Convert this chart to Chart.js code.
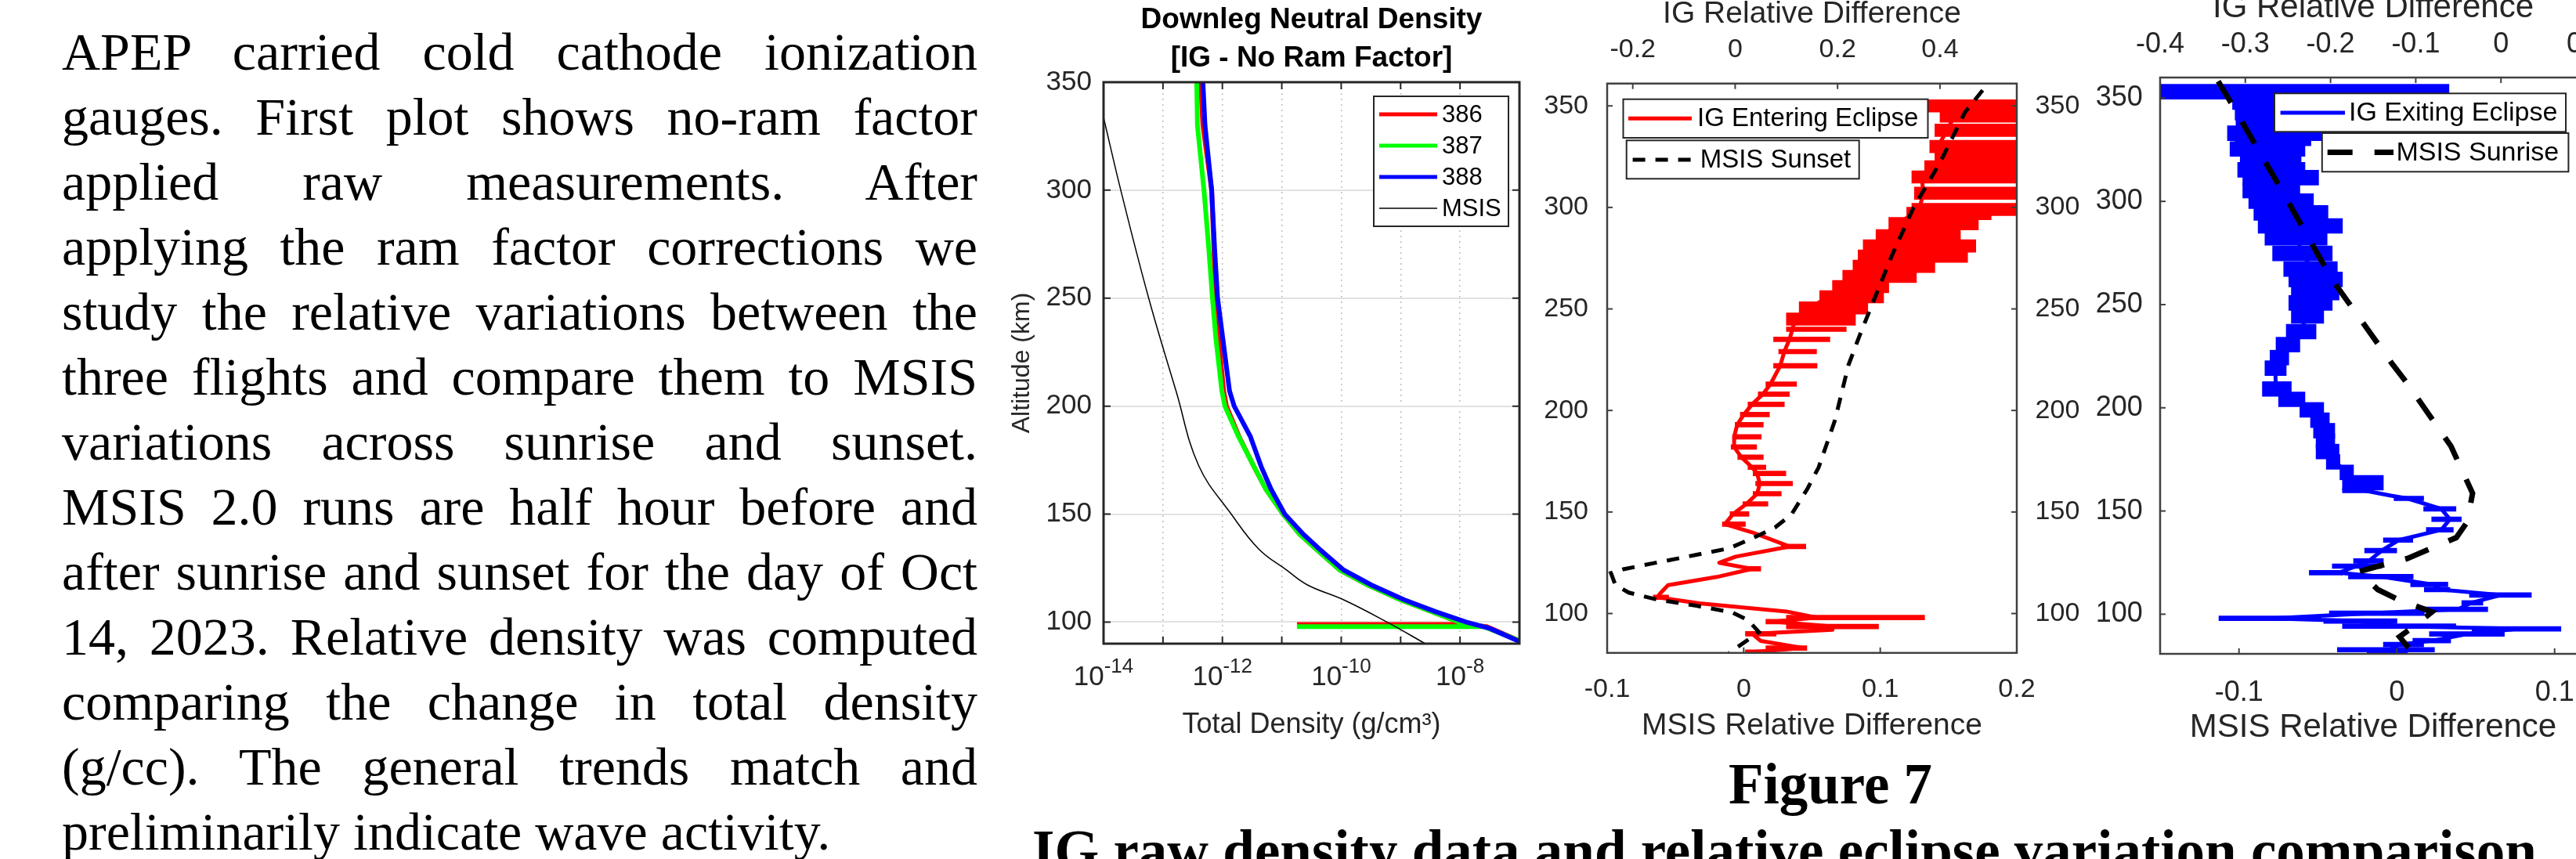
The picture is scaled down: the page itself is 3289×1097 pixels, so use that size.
<!DOCTYPE html>
<html>
<head>
<meta charset="utf-8">
<script src="https://cdn.jsdelivr.net/npm/chart.js@4.4.1/dist/chart.umd.min.js"></script>
<style>
  html, body { margin: 0; padding: 0; background: #fff; }
  body { width: 3289px; height: 1097px; overflow: hidden; position: relative; }
  canvas { position: absolute; top: -40px; }
  #text { position: absolute; left: 79px; top: 24.5px; width: 1169px;
          font-family: "Liberation Serif", "Times New Roman", serif; font-size: 68px; line-height: 83px; color: #000; }
  #text div { text-align: justify; text-align-last: justify; }
  #text div.last { text-align: left; text-align-last: left; }
  .cap { position: absolute; font-family: "Liberation Serif", "Times New Roman", serif; font-weight: bold;
         font-size: 73px; line-height: 73px; color: #000; white-space: nowrap; }
</style>
</head>
<body>
<div id="text">
  <div>APEP carried cold cathode ionization</div>
  <div>gauges. First plot shows no-ram factor</div>
  <div>applied raw measurements. After</div>
  <div>applying the ram factor corrections we</div>
  <div>study the relative variations between the</div>
  <div>three flights and compare them to MSIS</div>
  <div>variations across sunrise and sunset.</div>
  <div>MSIS 2.0 runs are half hour before and</div>
  <div>after sunrise and sunset for the day of Oct</div>
  <div>14, 2023. Relative density was computed</div>
  <div>comparing the change in total density</div>
  <div>(g/cc). The general trends match and</div>
  <div class="last">preliminarily indicate wave activity.</div>
</div>

<canvas id="c1" width="690" height="1000" style="left:1270px"></canvas>
<canvas id="c2" width="700" height="1000" style="left:1955px"></canvas>
<canvas id="c3" width="700" height="1000" style="left:2660px"></canvas>

<div class="cap" style="left:2037px; top:965px; width:600px; text-align:center;">Figure 7</div>
<div class="cap" style="left:1318px; top:1050px;">IG raw density data and relative eclipse variation comparison</div>

<script>
// ---- tick values / labels ----
const altTicks = [100, 150, 200, 250, 300, 350];
const densTicks = [1e-14, 1e-13, 1e-12, 1e-11, 1e-10, 1e-9, 1e-8, 1e-7];
const densTickExp = ['-14', null, '-12', null, '-10', null, '-8', null];
const igTicks2 = [-0.2, 0, 0.2, 0.4];
const msisTicks2 = [-0.1, 0, 0.1, 0.2];
const igTicks3 = [-0.4, -0.3, -0.2, -0.1, 0, 0.1];
const msisTicks3 = [-0.1, 0, 0.1];

// ---- panel 1: downleg density (g/cm3) vs altitude (km) ----
const alt386 = [350, 330, 300, 273, 250, 231, 207, 200, 186, 172, 161.5, 150, 140.7, 133.8, 124.1, 117.2, 110.3, 104.9, 100, 98.9, 98.9, 98.9, 97.9, 91.7, 90];
const dens386 = [4.3e-13, 4.7e-13, 6.6e-13, 7.2e-13, 7.6e-13, 8.7e-13, 1.05e-12, 1.17e-12, 1.9e-12, 3.4e-12, 5.4e-12, 1.05e-11, 2.0e-11, 3.8e-11, 9.5e-11, 2.8e-10, 1.0e-9, 3.3e-9, 9.5e-9, 1.26e-8, 1.8e-11, 1.26e-8, 2.8e-8, 9.3e-8, 1.2e-7];
const alt387 = [350, 330, 300, 273, 250, 231, 207, 200, 186, 172, 161.5, 150, 140.7, 133.8, 124.1, 117.2, 110.3, 104.9, 100, 97.9, 97.9, 97.9, 91.7, 90];
const dens387 = [3.7e-13, 3.8e-13, 4.9e-13, 5.9e-13, 6.8e-13, 7.8e-13, 9.8e-13, 1.1e-12, 1.86e-12, 3.4e-12, 5.4e-12, 1.05e-11, 2.0e-11, 3.8e-11, 9.5e-11, 2.8e-10, 1.0e-9, 3.3e-9, 9.5e-9, 2.5e-8, 1.8e-11, 2.5e-8, 9.3e-8, 1.2e-7];
const alt388 = [350, 330, 300, 273, 250, 231, 207, 200, 186, 172, 161.5, 150, 140.7, 133.8, 124.1, 117.2, 110.3, 104.9, 100, 97, 91, 90];
const dens388 = [4.7e-13, 5.1e-13, 6.6e-13, 7.4e-13, 8.3e-13, 1.02e-12, 1.32e-12, 1.58e-12, 2.95e-12, 4.5e-12, 6.6e-12, 1.12e-11, 2.3e-11, 4.3e-11, 1.1e-10, 3.2e-10, 1.15e-9, 3.8e-9, 1.26e-8, 3.2e-8, 1.0e-7, 1.2e-7];
const altMsis = [333.7, 300, 250, 207, 172.4, 150, 133.8, 124.1, 117.2, 110.3, 100, 90];
const densMsis = [1.0e-14, 1.95e-14, 5.75e-14, 1.66e-13, 4.0e-13, 1.41e-12, 4.1e-12, 1.2e-11, 2.7e-11, 1.1e-10, 5.9e-10, 2.6e-9];

// ---- panel 2: entering eclipse (IG, top axis) + MSIS sunset (bottom axis) ----
const enterAlt = [350, 345, 338, 330, 325, 320, 315, 307, 299, 297, 292, 286, 281, 276, 271, 266, 261, 256, 250.5, 245, 240, 235, 229, 222, 213, 208, 203, 198, 193, 187, 182, 177, 172, 169, 164, 159, 154, 149, 144, 140, 133, 128, 125, 122, 118, 114, 110, 108, 105, 101, 98, 96, 93.6, 92, 90, 86.5, 83, 81];
const enterIG = [0.43, 0.428, 0.414, 0.396, 0.405, 0.385, 0.364, 0.368, 0.359, 0.349, 0.317, 0.29, 0.264, 0.254, 0.243, 0.227, 0.206, 0.185, 0.143, 0.117, 0.112, 0.106, 0.096, 0.088, 0.069, 0.054, 0.033, 0.017, 0.004, -0.002, -0.002, 0.012, 0.033, 0.043, 0.048, 0.043, 0.022, -0.004, -0.02, 0.033, 0.106, 0.001, -0.031, 0.033, -0.036, -0.131, -0.146, -0.152, -0.07, 0.10, 0.159, 0.073, 0.19, 0.19, 0.033, 0.05, 0.132, 0.033];
const enterLo = [0.375, 0.40, 0.39, 0.38, 0.39, 0.37, 0.345, 0.35, 0.345, 0.335, 0.30, 0.275, 0.25, 0.24, 0.23, 0.21, 0.19, 0.165, 0.125, 0.10, 0.10, 0.075, 0.085, 0.075, 0.06, 0.045, 0.025, 0.01, 0.0, -0.005, -0.008, 0.005, 0.025, 0.035, 0.04, 0.035, 0.015, -0.01, -0.025, null, 0.09, null, null, 0.02, null, null, null, -0.16, null, null, 0.10, 0.06, 0.10, null, 0.02, null, 0.06, 0.02];
const enterHi = [0.60, 0.60, 0.60, 0.58, 0.60, 0.59, 0.58, 0.60, 0.60, 0.50, 0.475, 0.44, 0.47, 0.454, 0.39, 0.354, 0.30, 0.29, 0.259, 0.235, 0.217, 0.185, 0.159, 0.16, 0.12, 0.106, 0.096, 0.067, 0.055, 0.051, 0.042, 0.055, 0.06, 0.099, 0.112, 0.09, 0.064, 0.027, 0.02, null, 0.138, null, null, 0.05, null, null, null, -0.13, null, null, 0.37, 0.12, 0.28, null, 0.08, null, 0.14, 0.08];
const sunsetAlt = [357.7, 346.8, 322.4, 299.3, 276.2, 253.1, 236.4, 222.3, 195.1, 172, 161.7, 148.8, 142.4, 137.3, 132.1, 128.9, 125, 121.8, 119.9, 114.1, 110.3, 107, 103.8, 100.6, 96.7, 90.9, 87.1, 80.6];
const sunsetMsis = [0.175, 0.162, 0.144, 0.124, 0.1085, 0.0946, 0.0846, 0.0767, 0.0668, 0.0549, 0.0469, 0.035, 0.023, 0.0072, -0.0107, -0.0346, -0.0643, -0.0882, -0.0972, -0.094, -0.0842, -0.0643, -0.0346, -0.0087, 0.0032, 0.0111, 0.0032, -0.0107];

// ---- panel 3: exiting eclipse (IG, top axis) + MSIS sunrise (bottom axis) ----
const exitAlt = [353.1, 348.1, 343, 338, 333, 330.5, 325.4, 320.4, 315.3, 311.5, 305.2, 300.1, 294.4, 288.1, 282.4, 274.8, 267.2, 262.2, 255.8, 250.8, 244.5, 236.9, 230.6, 224.3, 219.2, 209.1, 204.1, 199, 194, 188.9, 183.9, 178.8, 173.8, 168.7, 163.7, 159.9, 157.4, 156.1, 151, 146, 140.9, 135.9, 130.8, 125.8, 123.3, 120.1, 118.2, 114.4, 111.9, 109.3, 105.5, 102.4, 100.5, 98, 96.7, 94.2, 92.9, 90.4, 87.2, 85.3, 82.8, 80.9];
const exitIG = [-0.32, -0.30, -0.29, -0.285, -0.28, -0.275, -0.275, -0.27, -0.27, -0.26, -0.265, -0.258, -0.25, -0.24, -0.24, -0.233, -0.222, -0.218, -0.215, -0.222, -0.228, -0.235, -0.25, -0.26, -0.265, -0.264, -0.245, -0.222, -0.212, -0.205, -0.205, -0.20, -0.195, -0.18, -0.17, -0.16, -0.129, -0.11, -0.07, -0.06, -0.07, -0.12, -0.14, -0.155, -0.17, -0.19, -0.14, -0.08, -0.07, 0.0, -0.035, -0.05, -0.15, -0.27, -0.17, -0.12, 0.02, -0.04, -0.08, -0.12, -0.13, -0.13];
const exitLo = [-0.45, -0.315, -0.312, -0.311, -0.321, -0.312, -0.318, -0.306, -0.309, -0.303, -0.303, -0.296, -0.29, -0.285, -0.277, -0.268, -0.255, -0.249, -0.246, -0.249, -0.246, -0.252, -0.264, -0.271, -0.277, -0.28, -0.261, -0.236, -0.2235, -0.22, -0.217, -0.217, -0.205, -0.189, -0.186, -0.186, null, -0.1255, -0.0907, -0.0813, -0.0876, -0.138, -0.16, -0.173, -0.198, -0.225, -0.179, -0.106, -0.09, -0.037, -0.046, -0.09, -0.2014, -0.331, -0.208, -0.186, -0.034, -0.084, -0.1034, -0.138, -0.192, -0.157];
const exitHi = [-0.061, -0.18, -0.18, -0.18, -0.211, -0.223, -0.23, -0.2345, -0.23, -0.214, -0.236, -0.22, -0.203, -0.186, -0.204, -0.198, -0.192, -0.186, -0.19, -0.198, -0.208, -0.217, -0.236, -0.249, -0.252, -0.246, -0.23, -0.208, -0.2014, -0.195, -0.195, -0.19, -0.189, -0.173, -0.138, -0.15, null, -0.0907, -0.0528, -0.0465, -0.0559, -0.1034, -0.1223, -0.138, -0.14, -0.186, -0.103, -0.0623, -0.06, 0.0357, -0.0212, -0.0155, -0.09, -0.211, -0.122, -0.053, 0.0704, 0.004, -0.059, -0.0907, -0.078, -0.1097];
const sunriseAlt = [358.2, 349.4, 306.4, 262.2, 221.8, 211.6, 181.4, 158.6, 144.7, 137.1, 127, 120.7, 111.9, 106.8, 101.1, 94.8, 89.1, 80.3];
const sunriseMsis = [-0.1132, -0.1063, -0.0737, -0.0411, -0.0034, 0.0068, 0.0343, 0.048, 0.0446, 0.0377, 0.0068, -0.024, -0.012, 0.0017, 0.0223, 0.012, 0.0017, 0.0111];

const FONT = '"Liberation Sans", Arial, Helvetica, sans-serif';
Chart.defaults.font.family = FONT;
Chart.defaults.color = '#262626';

const pts = (xs, ys) => xs.map((x, i) => ({ x: x, y: ys[i] }));
const bars = (alts, lo, hi, keep) => alts
  .map((a, i) => ({ x: [lo[i], hi[i]], y: a }))
  .filter(d => d.x[0] !== null && keep(d.y));
const fixed = size => scale => { if (scale.isHorizontal()) scale.height = size; else scale.width = size; };
const setTicks = values => scale => { scale.ticks = values.map(v => ({ value: v })); };

// axes box + inward tick marks (MATLAB style)
const frame = {
  id: 'frame',
  afterDatasetsDraw(chart, args, opts) {
    const ctx = chart.ctx, a = chart.chartArea;
    ctx.save();
    ctx.strokeStyle = opts.color;
    ctx.lineWidth = opts.tickWidth;
    ctx.setLineDash([]);
    opts.axes.forEach(ax => {
      const s = chart.scales[ax.id];
      s.ticks.forEach(t => {
        const p = s.getPixelForValue(t.value);
        ctx.beginPath();
        ax.sides.forEach(side => {
          if (side === 'top') { ctx.moveTo(p, a.top); ctx.lineTo(p, a.top + opts.len); }
          if (side === 'bottom') { ctx.moveTo(p, a.bottom); ctx.lineTo(p, a.bottom - opts.len); }
          if (side === 'left') { ctx.moveTo(a.left, p); ctx.lineTo(a.left + opts.len, p); }
          if (side === 'right') { ctx.moveTo(a.right, p); ctx.lineTo(a.right - opts.len, p); }
        });
        ctx.stroke();
      });
    });
    ctx.lineWidth = opts.width;
    ctx.strokeRect(a.left, a.top, a.right - a.left, a.bottom - a.top);
    ctx.restore();
  }
};

// 10^n tick labels with a raised exponent, placed at the log scale's ticks
const expTicks = {
  id: 'expTicks',
  afterDraw(chart, args, opts) {
    const s = chart.scales[opts.axis], ctx = chart.ctx;
    ctx.save();
    ctx.fillStyle = '#262626';
    ctx.textBaseline = 'alphabetic';
    s.ticks.forEach((t, i) => {
      const e = opts.exps[i];
      if (!e) return;
      const p = s.getPixelForValue(t.value);
      ctx.font = opts.base + 'px ' + FONT;
      const wb = ctx.measureText('10').width;
      ctx.font = opts.sup + 'px ' + FONT;
      const we = ctx.measureText(e).width;
      const x0 = p - (wb + we) / 2;
      const y = chart.chartArea.bottom + opts.dy;
      ctx.font = opts.base + 'px ' + FONT;
      ctx.fillText('10', x0, y);
      ctx.font = opts.sup + 'px ' + FONT;
      ctx.fillText(e, x0 + wb, y - opts.rise);
    });
    ctx.restore();
  }
};

// boxed legends placed inside the plot
const boxLegend = {
  id: 'boxLegend',
  afterDraw(chart, args, opts) {
    const ctx = chart.ctx;
    opts.boxes.forEach(b => {
      ctx.save();
      ctx.fillStyle = '#fff';
      ctx.fillRect(b.x, b.y, b.w, b.h);
      ctx.strokeStyle = '#262626';
      ctx.lineWidth = 2;
      ctx.strokeRect(b.x, b.y, b.w, b.h);
      b.rows.forEach(r => {
        const ds = chart.data.datasets[r.ds];
        ctx.beginPath();
        ctx.setLineDash(ds.borderDash || []);
        ctx.strokeStyle = ds.borderColor;
        ctx.lineWidth = r.lw || ds.borderWidth;
        ctx.moveTo(b.x0, r.y);
        ctx.lineTo(b.x1, r.y);
        ctx.stroke();
        ctx.setLineDash([]);
        ctx.fillStyle = '#000';
        ctx.font = opts.size + 'px ' + FONT;
        ctx.textBaseline = 'middle';
        ctx.fillText(ds.label, b.tx, r.y + 1);
      });
      ctx.restore();
    });
  }
};

const base = {
  animation: false, responsive: false, maintainAspectRatio: false,
  layout: { padding: 0 },
  elements: { point: { radius: 0 } }
};

// ---------- chart 1 ----------
new Chart(document.getElementById('c1'), {
  type: 'line',
  data: {
    datasets: [
      { label: '386', data: pts(dens386, alt386), borderColor: '#ff0000', borderWidth: 6, order: 4 },
      { label: '387', data: pts(dens387, alt387), borderColor: '#00ff00', borderWidth: 6, order: 3 },
      { label: '388', data: pts(dens388, alt388), borderColor: '#0000ff', borderWidth: 6, order: 2 },
      { label: 'MSIS', data: pts(densMsis, altMsis), borderColor: '#000000', borderWidth: 1.5, tension: 0.4, order: 1 }
    ]
  },
  options: Object.assign({}, base, {
    plugins: {
      legend: { display: false }, tooltip: { enabled: false },
      title: {
        display: true, fullSize: false, color: '#000',
        text: ['Downleg Neutral Density', '[IG - No Ram Factor]'],
        font: { size: 37, weight: 'bold', lineHeight: 1.34 },
        padding: { top: 40.7, bottom: 5.1 }
      },
      frame: {
        color: '#262626', width: 3, tickWidth: 2, len: 9,
        axes: [{ id: 'x', sides: ['bottom', 'top'] }, { id: 'y', sides: ['left', 'right'] }]
      },
      expTicks: { axis: 'x', exps: densTickExp, base: 35, sup: 26, dy: 53, rise: 16 },
      boxLegend: {
        size: 31,
        boxes: [{ x: 484, y: 163, w: 172, h: 166, x0: 491, x1: 565, tx: 571,
          rows: [{ ds: 0, y: 186, lw: 5 }, { ds: 1, y: 226, lw: 5 }, { ds: 2, y: 266, lw: 5 }, { ds: 3, y: 306 }] }]
      }
    },
    scales: {
      x: {
        type: 'logarithmic', position: 'bottom', min: 1e-14, max: 1e-7,
        afterBuildTicks: setTicks(densTicks), afterFit: fixed(138),
        ticks: { callback: () => '', autoSkip: false, maxRotation: 0, padding: 20, font: { size: 32 } },
        grid: { color: '#bdbdbd', lineWidth: 1.5, drawTicks: false },
        border: { display: false, dash: [2, 5] },
        title: { display: true, text: 'Total Density (g/cm³)', font: { size: 36 }, padding: { top: 0, bottom: 12 } }
      },
      y: {
        type: 'linear', position: 'left', min: 90, max: 350,
        afterBuildTicks: setTicks(altTicks), afterFit: fixed(139),
        ticks: { padding: 15, font: { size: 35 } },
        grid: { color: '#e2e2e2', lineWidth: 2, drawTicks: false },
        border: { display: false },
        title: { display: true, text: 'Altitude (km)', font: { size: 32 }, padding: { top: 16, bottom: 0 } }
      }
    }
  }),
  plugins: [frame, expTicks, boxLegend]
});

// ---------- chart 2 ----------
new Chart(document.getElementById('c2'), {
  type: 'line',
  data: {
    datasets: [
      { label: 'MSIS Sunset', data: pts(sunsetMsis, sunsetAlt), xAxisID: 'x', yAxisID: 'y',
        borderColor: '#000', borderWidth: 5, borderDash: [16, 13], order: 1 },
      { label: 'IG Entering Eclipse', data: pts(enterIG, enterAlt), xAxisID: 'x2', yAxisID: 'y',
        borderColor: '#ff0000', borderWidth: 5, borderJoinStyle: 'round', order: 2 },
      { type: 'bar', label: 'bars', indexAxis: 'y', xAxisID: 'x2', yAxisID: 'y', grouped: false,
        data: bars(enterAlt, enterLo, enterHi, a => a >= 245), backgroundColor: '#ff0000', borderWidth: 0, barThickness: 16, order: 3 },
      { type: 'bar', label: 'bars', indexAxis: 'y', xAxisID: 'x2', yAxisID: 'y', grouped: false,
        data: bars(enterAlt, enterLo, enterHi, a => a < 245), backgroundColor: '#ff0000', borderWidth: 0, barThickness: 6, order: 3 }
    ]
  },
  options: Object.assign({}, base, {
    plugins: {
      legend: { display: false }, tooltip: { enabled: false },
      frame: {
        color: '#404040', width: 2.5, tickWidth: 2, len: 7,
        axes: [{ id: 'x', sides: ['bottom'] }, { id: 'x2', sides: ['top'] }, { id: 'y', sides: ['left'] }, { id: 'y2', sides: ['right'] }]
      },
      boxLegend: {
        size: 33,
        boxes: [
          { x: 117.5, y: 166.7, w: 389, h: 49.3, x0: 124, x1: 205, tx: 212, rows: [{ ds: 1, y: 191.3 }] },
          { x: 121.7, y: 219.3, w: 297, h: 49, x0: 129.6, x1: 208.8, tx: 215.7, rows: [{ ds: 0, y: 244 }] }
        ]
      }
    },
    scales: {
      x: {
        type: 'linear', position: 'bottom', min: -0.1, max: 0.2,
        afterBuildTicks: setTicks(msisTicks2), afterFit: fixed(126.2),
        ticks: { padding: 18.4, font: { size: 34 } },
        grid: { display: false }, border: { display: false },
        title: { display: true, text: 'MSIS Relative Difference', font: { size: 39 }, padding: { top: 0, bottom: 9.6 } }
      },
      x2: {
        type: 'linear', position: 'top', min: -0.25, max: 0.55, offset: false,
        afterBuildTicks: setTicks(igTicks2), afterFit: fixed(146.7),
        ticks: { padding: 15, font: { size: 34 } },
        grid: { display: false }, border: { display: false },
        title: { display: true, text: 'IG Relative Difference', font: { size: 39 }, padding: { top: 35.1, bottom: 0 } }
      },
      y: {
        type: 'linear', position: 'left', min: 80.6, max: 361, offset: false,
        afterBuildTicks: setTicks(altTicks), afterFit: fixed(97),
        ticks: { padding: 16, font: { size: 34 } },
        grid: { display: false, offset: false }, border: { display: false }
      },
      y2: {
        type: 'linear', position: 'right', min: 80.6, max: 361, offset: false,
        afterBuildTicks: setTicks(altTicks), afterFit: fixed(80),
        ticks: { padding: 15.6, font: { size: 34 } },
        grid: { display: false }, border: { display: false }
      }
    }
  }),
  plugins: [frame, boxLegend]
});

// ---------- chart 3 ----------
new Chart(document.getElementById('c3'), {
  type: 'line',
  data: {
    datasets: [
      { label: 'MSIS Sunrise', data: pts(sunriseMsis, sunriseAlt), xAxisID: 'x', yAxisID: 'y',
        borderColor: '#000', borderWidth: 7, borderDash: [32, 28], order: 1 },
      { label: 'IG Exiting Eclipse', data: pts(exitIG, exitAlt), xAxisID: 'x2', yAxisID: 'y',
        borderColor: '#0000ff', borderWidth: 5, borderJoinStyle: 'round', order: 2 },
      { type: 'bar', label: 'bars', indexAxis: 'y', xAxisID: 'x2', yAxisID: 'y', grouped: false,
        data: bars(exitAlt, exitLo, exitHi, a => a >= 160), backgroundColor: '#0000ff', borderWidth: 0, barThickness: 19, order: 3 },
      { type: 'bar', label: 'bars', indexAxis: 'y', xAxisID: 'x2', yAxisID: 'y', grouped: false,
        data: bars(exitAlt, exitLo, exitHi, a => a < 160), backgroundColor: '#0000ff', borderWidth: 0, barThickness: 6, order: 3 }
    ]
  },
  options: Object.assign({}, base, {
    plugins: {
      legend: { display: false }, tooltip: { enabled: false },
      frame: {
        color: '#404040', width: 2.5, tickWidth: 2, len: 7,
        axes: [{ id: 'x', sides: ['bottom'] }, { id: 'x2', sides: ['top'] }, { id: 'y', sides: ['left'] }, { id: 'y2', sides: ['right'] }]
      },
      boxLegend: {
        size: 34,
        boxes: [
          { x: 244, y: 159.3, w: 372, h: 49, x0: 251.6, x1: 334, tx: 339, rows: [{ ds: 1, y: 184 }] },
          { x: 304.8, y: 210, w: 314.6, h: 49.3, x0: 311.7, x1: 396, tx: 399.4, rows: [{ ds: 0, y: 234.5 }] }
        ]
      }
    },
    scales: {
      x: {
        type: 'linear', position: 'bottom', min: -0.15, max: 0.12,
        afterBuildTicks: setTicks(msisTicks3), afterFit: fixed(125),
        ticks: { padding: 20.5, font: { size: 36 } },
        grid: { display: false }, border: { display: false },
        title: { display: true, text: 'MSIS Relative Difference', font: { size: 42 }, padding: { top: 0, bottom: 5.8 } }
      },
      x2: {
        type: 'linear', position: 'top', min: -0.4, max: 0.1, offset: false,
        afterBuildTicks: setTicks(igTicks3), afterFit: fixed(139),
        ticks: { padding: 12.4, font: { size: 36 } },
        grid: { display: false }, border: { display: false },
        title: { display: true, text: 'IG Relative Difference', font: { size: 42 }, padding: { top: 24.8, bottom: 0 } }
      },
      y: {
        type: 'linear', position: 'left', min: 80.8, max: 360, offset: false,
        afterBuildTicks: setTicks(altTicks), afterFit: fixed(98),
        ticks: { padding: 14.3, font: { size: 36 } },
        grid: { display: false, offset: false }, border: { display: false }
      },
      y2: {
        type: 'linear', position: 'right', min: 80.8, max: 360, offset: false,
        afterBuildTicks: setTicks(altTicks), afterFit: fixed(58),
        ticks: { padding: 15, font: { size: 36 } },
        grid: { display: false }, border: { display: false }
      }
    }
  }),
  plugins: [frame, boxLegend]
});
</script>
</body>
</html>
